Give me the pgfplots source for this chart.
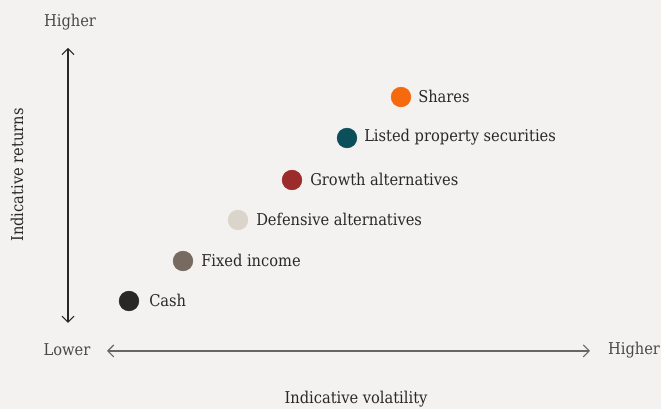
\documentclass[border=0pt]{standalone}
\usepackage{pgfplots}
\pgfplotsset{compat=1.18}
\usetikzlibrary{arrows.meta}
\usepackage{fontspec}
\setmainfont{DejaVu Serif Condensed}
\definecolor{bg}{HTML}{F3F2F0}
\definecolor{cshares}{HTML}{F56A0F}
\definecolor{cprop}{HTML}{0C4F5B}
\definecolor{cgrowth}{HTML}{9C2B2B}
\definecolor{cdef}{HTML}{DAD4CB}
\definecolor{cfixed}{HTML}{766A61}
\definecolor{ccash}{HTML}{2A2826}
\definecolor{txt}{HTML}{2A2826}
\definecolor{txtgray}{HTML}{4A4846}
\tikzset{lbl/.style={font=\fontsize{12.2}{14}\selectfont, text=txt, inner sep=0pt}}
\begin{document}
\begin{tikzpicture}[x=1pt,y=1pt]
\begin{axis}[
  scale only axis,
  width=495.75pt, height=306.75pt,
  xmin=0, xmax=661, ymin=0, ymax=409,
  axis lines=none,
  axis background/.style={fill=bg},
  clip=false,
]
\addplot[only marks, mark=*, mark size=7.4pt, color=ccash] coordinates {(129,108)};
\addplot[only marks, mark=*, mark size=7.4pt, color=cfixed] coordinates {(183,148)};
\addplot[only marks, mark=*, mark size=7.4pt, color=cdef] coordinates {(238,189)};
\addplot[only marks, mark=*, mark size=7.4pt, color=cgrowth] coordinates {(292,229)};
\addplot[only marks, mark=*, mark size=7.4pt, color=cprop] coordinates {(347,271)};
\addplot[only marks, mark=*, mark size=7.4pt, color=cshares] coordinates {(401,312)};
\node[lbl, anchor=west] at (axis cs:149,109) {Cash};
\node[lbl, anchor=west] at (axis cs:201,149) {Fixed income};
\node[lbl, anchor=west] at (axis cs:256,190) {Defensive alternatives};
\node[lbl, anchor=west] at (axis cs:310,230) {Growth alternatives};
\node[lbl, anchor=west] at (axis cs:364,272) {Listed property securities};
\node[lbl, anchor=west] at (axis cs:418,313) {Shares};
\draw[<->, >={Straight Barb[length=4.5pt,width=9pt]}, line width=0.8pt, color=txt] (axis cs:68,86) -- (axis cs:68,361);
\draw[<->, >={Straight Barb[length=4.5pt,width=9pt]}, line width=0.8pt, color=black!60] (axis cs:107,58) -- (axis cs:590,58);
\node[lbl, text=txtgray] at (axis cs:70,387) {Higher};
\node[lbl, text=txtgray] at (axis cs:67,59) {Lower};
\node[lbl, text=txtgray] at (axis cs:634,59) {Higher};
\node[lbl, rotate=90] at (axis cs:17,234) {Indicative returns};
\node[lbl] at (axis cs:356,10) {Indicative volatility};
\end{axis}
\end{tikzpicture}
\end{document}
